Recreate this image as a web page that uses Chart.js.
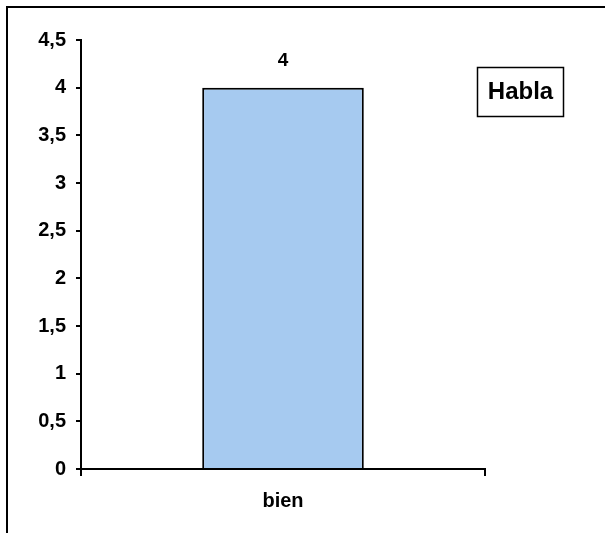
<!DOCTYPE html>
<html>
<head>
<meta charset="utf-8">
<script src="https://cdn.jsdelivr.net/npm/chart.js@4"></script>
<style>
  html, body { margin: 0; padding: 0; background: #fff; }
  #wrap { position: relative; width: 605px; height: 533px; }
  #frame { position: absolute; left: 6px; top: 6px; right: 0; bottom: 0;
           border-top: 2px solid #000; border-left: 2px solid #000; pointer-events: none; }
</style>
</head>
<body>
<div id="wrap">
  <canvas id="myChart" width="605" height="533"></canvas>
  <div id="frame"></div>
</div>
<script>
const categories = ['bien']
const seriesName = 'Habla'
const values = [4]
const yTicks = [0, 0.5, 1, 1.5, 2, 2.5, 3, 3.5, 4, 4.5]

const fontFam = '"Liberation Sans", Arial, sans-serif'

// value label over each bar
const barLabels = {
  id: 'barLabels',
  afterDatasetsDraw(chart) {
    const ctx = chart.ctx
    const meta = chart.getDatasetMeta(0)
    ctx.save()
    ctx.font = 'bold 19px ' + fontFam
    ctx.fillStyle = '#000'
    ctx.textAlign = 'center'
    ctx.textBaseline = 'middle'
    meta.data.forEach((bar, i) => {
      ctx.fillText(String(values[i]).replace('.', ','), bar.x, bar.y - 27)
    })
    ctx.restore()
  }
}

// excel style legend box
const boxLegend = {
  id: 'boxLegend',
  afterDraw(chart) {
    const ctx = chart.ctx
    ctx.save()
    ctx.strokeStyle = '#000'
    ctx.lineWidth = 1.5
    ctx.strokeRect(477.5, 67.5, 86, 49)
    ctx.font = 'bold 24px ' + fontFam
    ctx.fillStyle = '#000'
    ctx.textAlign = 'center'
    ctx.textBaseline = 'middle'
    ctx.fillText(seriesName, 520.5, 92)
    ctx.restore()
  }
}

new Chart(document.querySelector('#myChart'), {
  type: 'bar',
  data: {
    labels: categories,
    datasets: [{
      label: seriesName,
      data: values,
      backgroundColor: '#A6CAF0',
      borderColor: '#000',
      borderWidth: 2,
      barPercentage: 0.4,
      categoryPercentage: 1
    }]
  },
  options: {
    responsive: false,
    animation: false,
    layout: { padding: { left: 0, right: 120, top: 40, bottom: 0 } },
    plugins: {
      legend: { display: false },
      tooltip: { enabled: false }
    },
    scales: {
      x: {
        afterFit(scale) { scale.height = 64 },
        border: { color: '#000', width: 2 },
        grid: { offset: true, drawOnChartArea: false, drawTicks: true, tickLength: 7, color: '#000', lineWidth: 2 },
        ticks: { color: '#000', font: { family: fontFam, size: 20, weight: 'bold' }, padding: 13 }
      },
      y: {
        min: 0,
        max: 4.5,
        afterFit(scale) { scale.width = 81 },
        afterBuildTicks(scale) { scale.ticks = yTicks.map(v => ({ value: v })) },
        border: { color: '#000', width: 2 },
        grid: { drawOnChartArea: false, drawTicks: true, tickLength: 5, color: '#000', lineWidth: 2 },
        ticks: {
          color: '#000',
          font: { family: fontFam, size: 20, weight: 'bold' },
          padding: 10,
          callback: v => String(v).replace('.', ',')
        }
      }
    }
  },
  plugins: [barLabels, boxLegend]
})
</script>
</body>
</html>
